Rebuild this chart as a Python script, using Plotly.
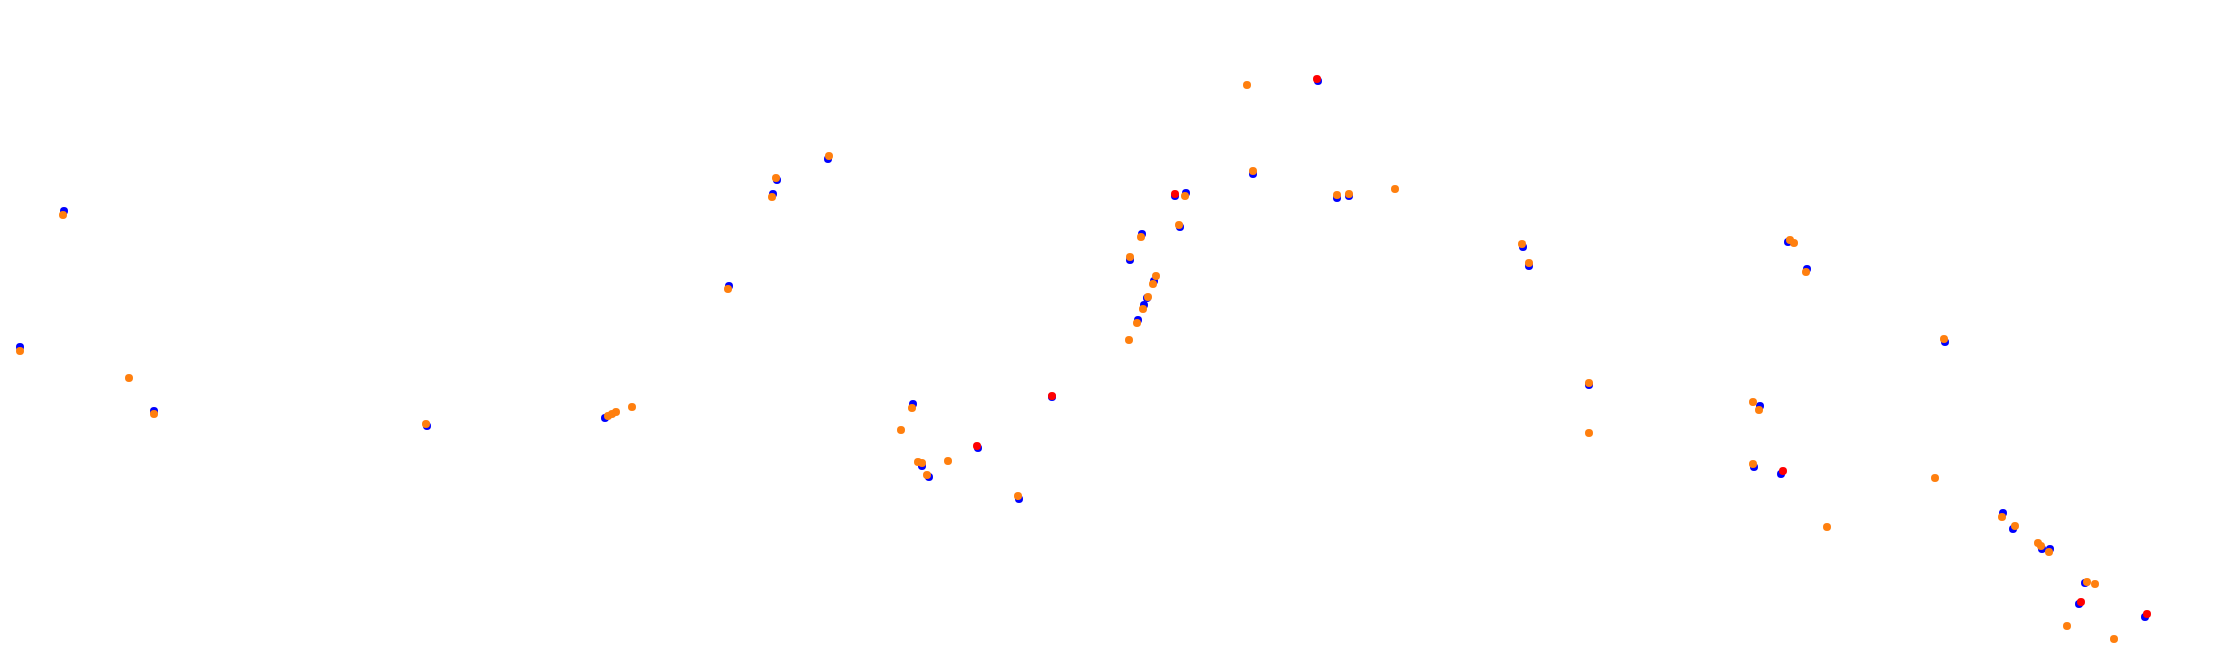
import plotly.graph_objects as go

# Series values (x to the right, y downward)
blue_x = [64, 20, 154, 427, 605, 729, 773, 777, 828, 913, 922, 929, 978, 1019, 1052,
          1130, 1138, 1144, 1147, 1154, 1142, 1180, 1175, 1186, 1253, 1318, 1337, 1349,
          1523, 1529, 1589, 1788, 1807, 1945, 1760, 1754, 1781, 2003, 2013, 2042, 2050,
          2085, 2079, 2145]
blue_y = [211, 347, 411, 426, 418, 286, 194, 180, 159, 404, 466, 477, 448, 499, 397,
          260, 320, 305, 298, 281, 234, 227, 196, 193, 174, 81, 198, 196,
          247, 266, 385, 242, 269, 342, 406, 467, 474, 513, 529, 549, 549,
          583, 604, 617]

red_x = [1052, 977, 1175, 1317, 1783, 2081, 2147]
red_y = [396, 446, 194, 79, 471, 602, 614]

orange_x = [63, 20, 129, 154, 426, 608, 612, 616, 632, 728, 772, 776, 829, 912, 901,
            918, 922, 927, 948, 1018, 1253, 1185, 1179, 1141, 1130, 1156, 1153, 1148,
            1143, 1137, 1129, 1247, 1337, 1349, 1395, 1522, 1529, 1589, 1589, 1790,
            1794, 1806, 1944, 1753, 1759, 1753, 1935, 1827, 2002, 2015, 2038, 2041,
            2049, 2087, 2095, 2067, 2114]
orange_y = [215, 351, 378, 414, 424, 416, 414, 412, 407, 289, 197, 178, 156, 408, 430,
            462, 463, 475, 461, 496, 171, 196, 225, 237, 257, 276, 284, 297,
            309, 323, 340, 85, 195, 194, 189, 244, 263, 383, 433, 240,
            243, 272, 339, 402, 410, 464, 478, 527, 517, 526, 543, 546,
            552, 582, 584, 626, 639]

fig = go.Figure()
fig.add_trace(go.Scatter(x=blue_x, y=blue_y, mode="markers",
                         marker=dict(color="#0000ff", size=8, line=dict(width=0)),
                         showlegend=False))
fig.add_trace(go.Scatter(x=red_x, y=red_y, mode="markers",
                         marker=dict(color="#ff0000", size=8, line=dict(width=0)),
                         showlegend=False))
fig.add_trace(go.Scatter(x=orange_x, y=orange_y, mode="markers",
                         marker=dict(color="#ff7f0e", size=8, line=dict(width=0)),
                         showlegend=False))

fig.update_layout(
    width=2233, height=657,
    margin=dict(l=0, r=0, t=0, b=0),
    paper_bgcolor="white", plot_bgcolor="white",
    xaxis=dict(range=[0, 2233], visible=False, fixedrange=True),
    yaxis=dict(range=[657, 0], visible=False, fixedrange=True),
)
fig.write_html("out.html",
               config={"displayModeBar": False, "staticPlot": True},
               post_script="document.body.style.margin='0';document.body.style.overflow='hidden';")
